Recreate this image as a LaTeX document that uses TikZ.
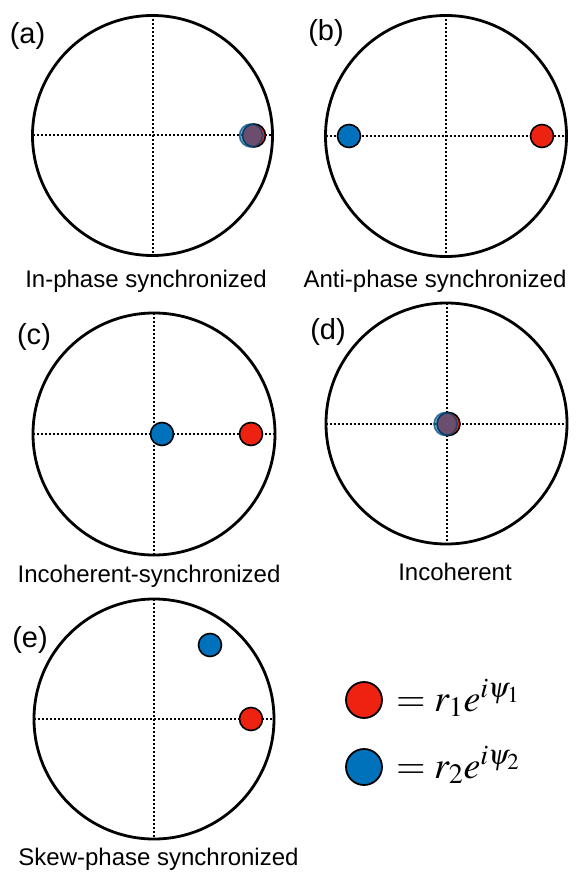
\documentclass[tikz,border=0pt]{standalone}
\usepackage{mathptmx}
\usepackage{fontspec}
\setmainfont{Liberation Sans}
\definecolor{dotred}{RGB}{238,34,17}
\definecolor{dotblue}{RGB}{0,114,188}
\tikzset{
  phasecircle/.style={circle, draw=black, line width=2.8pt, minimum size=#1, inner sep=0pt, outer sep=0pt},
  axisline/.style={line width=2pt, dash pattern=on 2pt off 2pt},
  reddot/.style={circle, fill=dotred, draw=black, line width=1.6pt, minimum size=23pt, inner sep=0pt},
  bluedot/.style={circle, fill=dotblue, draw=black, line width=1.6pt, minimum size=23pt, inner sep=0pt},
  blendblue/.style={circle, fill=dotblue, draw=dotblue!60!black, line width=1.6pt, minimum size=23pt, inner sep=0pt, fill opacity=0.55, draw opacity=0.7},
  panellabel/.style={font=\fontsize{29}{32}\selectfont, inner sep=0pt},
  caption/.style={font=\fontsize{24}{28}\selectfont, anchor=base, inner sep=0pt},
  legdot/.style={circle, draw=black, line width=1.8pt, minimum size=36pt, inner sep=0pt},
  legtext/.style={anchor=base west, inner sep=0pt, font=\fontsize{38}{42}\selectfont}
}
\begin{document}
\begin{tikzpicture}[x=1pt,y=-1pt]
\useasboundingbox (0,0) rectangle (581,877);
% ---------- (a)
\node[phasecircle=240pt] (ca) at (152.5,135.5) {};
\draw[axisline] (ca.north) -- (ca.south);
\draw[axisline] (ca.west) -- (ca.east);
\node[reddot] (ra) at (254,135.5) {};
\node[blendblue] (ba) at (251,135.5) {};
\node[panellabel] (la) at (27.5,36) {(a)};
\node[caption] (ta) at (146,287) {In-phase synchronized};
% ---------- (b)
\node[phasecircle=241pt] (cb) at (446,136) {};
\draw[axisline] (cb.north) -- (cb.south);
\draw[axisline] (cb.west) -- (cb.east);
\node[bluedot] (bb) at (349,136) {};
\node[reddot] (rb) at (542,136) {};
\node[panellabel] (lb) at (326,33) {(b)};
\node[caption] (tb) at (435,287) {Anti-phase synchronized};
% ---------- (c)
\node[phasecircle=242pt] (cc) at (154,434) {};
\draw[axisline] (cc.north) -- (cc.south);
\draw[axisline] (cc.west) -- (cc.east);
\node[bluedot] (bc) at (162,434) {};
\node[reddot] (rc) at (251,434) {};
\node[panellabel] (lc) at (34,337) {(c)};
\node[caption] (tc) at (149,582) {Incoherent-synchronized};
% ---------- (d)
\node[phasecircle=241pt] (cd) at (446.5,423.5) {};
\draw[axisline] (cd.north) -- (cd.south);
\draw[axisline] (cd.west) -- (cd.east);
\node[reddot] (rd) at (448.5,424) {};
\node[blendblue] (bd) at (445.5,424) {};
\node[panellabel] (ld) at (328,332) {(d)};
\node[caption] (td) at (455,580) {Incoherent};
% ---------- (e)
\node[phasecircle=240pt] (ce) at (154,719) {};
\draw[axisline] (ce.north) -- (ce.south);
\draw[axisline] (ce.west) -- (ce.east);
\node[bluedot] (be) at (210,645) {};
\node[reddot] (re) at (251,719) {};
\node[panellabel] (le) at (30,640) {(e)};
\node[caption] (te) at (158.5,865) {Skew-phase synchronized};
% ---------- legend
\node[legdot, fill=dotred] (lr) at (364,700) {};
\node[legdot, fill=dotblue] (lbl) at (364,767) {};
\node[legtext] (er) at (396,711) {$=r_1e^{i\psi_1}$};
\node[legtext] (eb) at (396,778) {$=r_2e^{i\psi_2}$};
\end{tikzpicture}
\end{document}
